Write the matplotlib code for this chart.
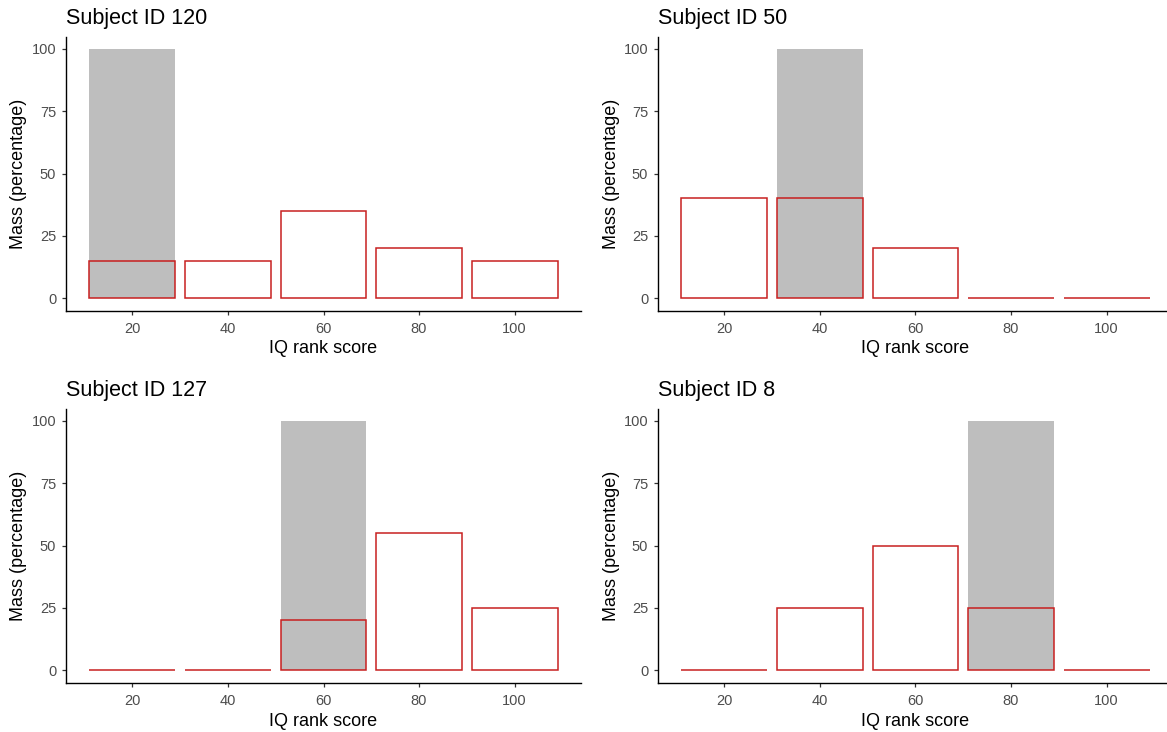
import matplotlib
matplotlib.use('Agg')
import matplotlib.pyplot as plt

# ---- data ----
categories = [20, 40, 60, 80, 100]
subject_ids = ['120', '50', '127', '8']
true_scores = [20, 40, 60, 80]
true_mass = 100
pred_120 = [15, 15, 35, 20, 15]
pred_50 = [40, 40, 20, 0, 0]
pred_127 = [0, 0, 20, 55, 25]
pred_8 = [0, 25, 50, 25, 0]
predictions = [pred_120, pred_50, pred_127, pred_8]
y_ticks = [0, 25, 50, 75, 100]

plt.rcParams['font.family'] = ['Liberation Sans', 'DejaVu Sans']

W, H = 1167, 732
fig = plt.figure(figsize=(W / 100, H / 100), dpi=100)
fig.patch.set_facecolor('white')

# panel boxes in pixels: left, right, top, bottom
boxes = [
    (66, 581, 36.5, 310.5),
    (658, 1173, 36.5, 310.5),
    (66, 581, 408.5, 682.5),
    (658, 1173, 408.5, 682.5),
]

RED = '#C82020'
GRAY = '#BEBEBE'
bar_w = 18

for i, (l, r, t, b) in enumerate(boxes):
    ax = fig.add_axes([l / W, 1 - b / H, (r - l) / W, (b - t) / H])
    ax.bar([true_scores[i]], [true_mass], width=bar_w, color=GRAY, linewidth=0, zorder=1)
    ax.bar(categories, predictions[i], width=bar_w, facecolor='none',
           edgecolor=RED, linewidth=1.1, zorder=2)
    ax.set_xlim(6.1, 113.9)
    ax.set_ylim(-5, 105)
    ax.set_xticks(categories)
    ax.set_yticks(y_ticks)
    for s in ['top', 'right']:
        ax.spines[s].set_visible(False)
    for s in ['left', 'bottom']:
        ax.spines[s].set_linewidth(1.0)
        ax.spines[s].set_color('black')
    ax.tick_params(axis='both', length=3, width=0.9, color='#333333',
                   labelcolor='#4D4D4D', labelsize=10.5, pad=4)
    ax.tick_params(axis='x', pad=5)
    # texts
    cx = (l + r) / 2
    cy = (t + b) / 2
    fig.text(l / W, 1 - (t - 12.5) / H, f'Subject ID {subject_ids[i]}',
             fontsize=15.5, ha='left', va='baseline', color='black')
    fig.text(cx / W, 1 - (b + 38.5) / H, 'IQ rank score', fontsize=13,
             ha='center', va='center', color='black')
    fig.text((l - 47) / W, 1 - cy / H, 'Mass (percentage)', fontsize=13,
             ha='center', va='center', rotation=90, color='black')

fig.savefig('out.png', dpi=100, facecolor='white')
